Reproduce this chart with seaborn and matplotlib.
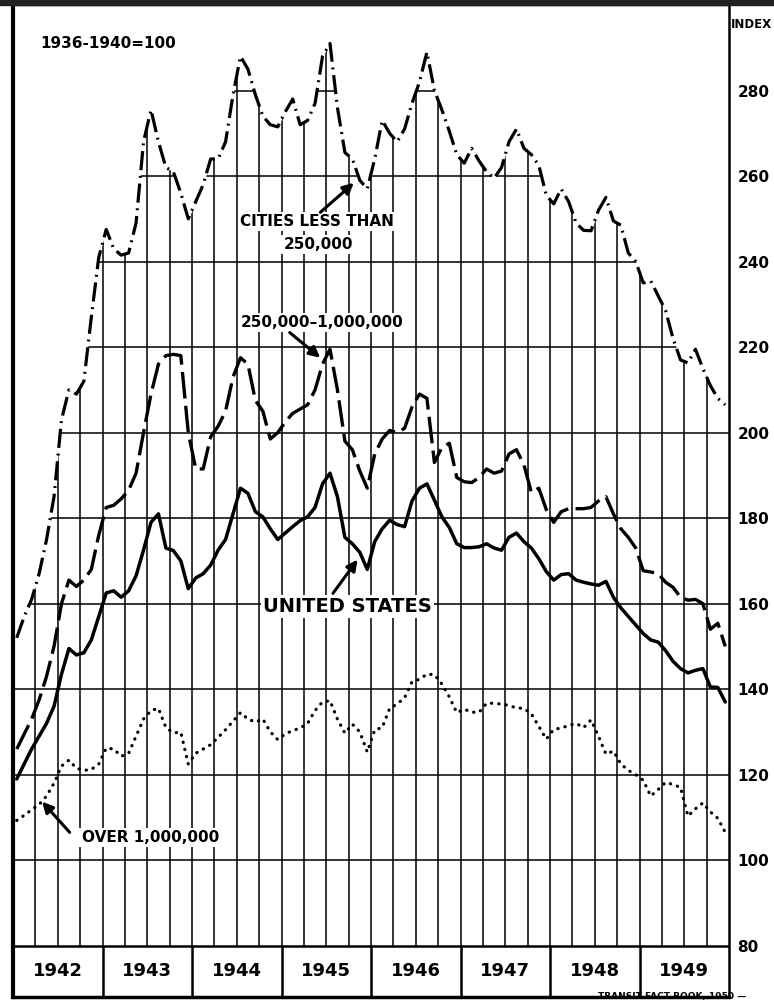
import numpy as np
import pandas as pd
import matplotlib
matplotlib.use('Agg')
import matplotlib.pyplot as plt
from matplotlib.patches import Rectangle
import seaborn as sns

# Transit riding index, 1936-1940 = 100, monthly Jan 1942 - Dec 1949
years = ['1942', '1943', '1944', '1945', '1946', '1947', '1948', '1949']

cities_lt_250k = [
    152, 157, 161, 167, 175, 185, 203, 210, 209, 212, 227, 241,
    247.5, 243, 241.5, 242, 249, 268, 275.5, 268, 262, 261, 256, 250,
    254, 258, 264, 264, 268, 279, 288, 285, 279, 274, 272, 271.5,
    275, 278, 272, 273, 277, 288, 291, 276, 265.5, 264, 259, 257,
    264, 273, 270, 268, 271, 277, 282, 289, 280, 275.5, 270.5, 265,
    263, 266.5, 263.5, 261, 259.5, 262, 268, 271, 266.5, 265, 262.5, 255.5,
    253.5, 257, 254, 249, 247.3, 247.2, 252, 255, 249.5, 248.5, 242, 240,
    235, 235.5, 232, 228.5, 222, 217, 216.3, 219.5, 215, 211, 208, 206.5]

cities_250k_1m = [
    126, 129.5, 133, 137.5, 143, 150, 160, 165.5, 164, 165.5, 168, 176,
    182.5, 183, 184.5, 186.5, 190.5, 200, 209, 216, 218, 218.3, 218, 200,
    191.5, 191.5, 199, 201.5, 205, 213, 217.5, 216, 207.5, 205, 198.5, 200,
    202.5, 204.5, 205.5, 206.5, 210, 216, 219.5, 210, 198, 196, 191, 187,
    195, 198.5, 200.5, 200, 201, 206, 209, 208, 193, 196.5, 197.5, 189.5,
    188.5, 188.3, 189.5, 191.5, 190.5, 191, 195, 196, 192.5, 186, 187, 182,
    179, 181.5, 182.2, 182.2, 182.2, 182.5, 184, 185, 181, 177.5, 175.5, 173,
    167.7, 167.4, 167, 165, 163.8, 161.5, 160.8, 161, 160, 154, 155.4, 150]

united_states = [
    119, 122.5, 126, 129, 132, 136, 143.5, 149.5, 148, 148.5, 151.5, 157,
    162.5, 163, 161.5, 163, 166.5, 172.5, 179, 181, 173, 172.4, 170, 163.5,
    166, 167, 169, 172.5, 175, 181, 187, 185.8, 181.5, 180.3, 177.5, 175,
    176.5, 178, 179.4, 180.3, 182.5, 188, 190.5, 185, 175.5, 174, 172, 168,
    174.5, 177.5, 179.5, 178.5, 178, 184, 187, 188, 184.2, 180.3, 177.8, 174,
    173.1, 173.1, 173.3, 174, 173, 172.5, 175.5, 176.5, 174.5, 173, 170.5, 167.5,
    165.5, 166.8, 167, 165.5, 165, 164.6, 164.3, 165.2, 161.5, 159, 157, 155,
    153, 151.5, 151, 149, 146.5, 144.8, 143.8, 144.4, 144.8, 140.5, 140.4, 137]

over_1m = [
    109.3, 110.5, 111.8, 113, 115, 118, 122, 123.4, 121.5, 121, 121.2, 122.5,
    126.2, 126, 124.3, 125, 129, 133, 135, 135.5, 131, 129.8, 129.9, 122.5,
    125, 126, 127, 128.7, 130.5, 132.5, 134.5, 133, 132.3, 133, 130, 128.2,
    129.5, 130.3, 130.9, 132, 135, 137, 137.3, 133, 129.7, 131.8, 130, 125.3,
    130.5, 131, 135.5, 136.5, 138, 141.7, 142.3, 143.5, 143.4, 141.2, 138.2, 134.5,
    135.3, 134.6, 134.6, 136.7, 136.7, 136.5, 136.2, 135.6, 135.5, 134.2, 131.3, 128.3,
    130.6, 130.9, 131.5, 132, 131, 132.8, 129, 124.8, 125.5, 122.5, 121, 120,
    118.7, 115, 116.5, 118.2, 117.7, 117, 110.3, 112, 113.4, 111.3, 109.8, 106.5]

index_ticks = [80, 100, 120, 140, 160, 180, 200, 220, 240, 260, 280]

df = pd.DataFrame({
    'month': np.arange(96) + 0.5,
    'cities': cities_lt_250k,
    'mid': cities_250k_1m,
    'us': united_states,
    'over': over_1m,
})

sns.set_style('white')
plt.rcParams['font.family'] = ['DejaVu Sans']
plt.rcParams['text.color'] = 'black'
plt.rcParams['ytick.color'] = 'black'
plt.rcParams['ytick.labelcolor'] = 'black'

fig = plt.figure(figsize=(7.74, 10.02), dpi=100)
ax = fig.add_axes([13/774, 5/1002, 716/774, 992/1002])

# grid, later hidden above the top curve
for v in index_ticks[1:]:
    ax.axhline(v, color='k', lw=1.1, zorder=1)
ax.vlines(np.arange(3, 96, 3), 80, 300, color='k', lw=1.1, zorder=1)

# white out grid above the "cities less than 250,000" curve
fx = np.concatenate([[0], df['month'], [96]])
fy = np.concatenate([[df['cities'].iloc[0]], df['cities'], [df['cities'].iloc[-1]]])
ax.fill_between(fx, fy, 300, color='white', zorder=1.5, lw=0)

# year band
ax.axhline(80, color='k', lw=1.8, zorder=2)
ax.vlines(np.arange(12, 96, 12), 68, 80, color='k', lw=1.8, zorder=2)
for k, yr in enumerate(years):
    ax.text(6 + 12 * k, 74, yr, ha='center', va='center', fontsize=13,
            fontweight='bold', color='k')

# series
sns.lineplot(data=df, x='month', y='cities', ax=ax, color='k', lw=2.3,
             linestyle=(0, (6, 1.8, 0.6, 1.8)), zorder=3)
sns.lineplot(data=df, x='month', y='mid', ax=ax, color='k', lw=2.4,
             linestyle=(0, (8, 2.2)), zorder=3)
sns.lineplot(data=df, x='month', y='us', ax=ax, color='k', lw=2.5, zorder=3)
sns.lineplot(data=df, x='month', y='over', ax=ax, color='k', lw=2.3,
             linestyle=(0, (0.1, 2.2)), dash_capstyle='round', zorder=3)

ax.set_xlim(0, 96)
ax.set_ylim(68, 300)
ax.set_xlabel('')
ax.set_ylabel('')
ax.set_xticks([])
ax.yaxis.tick_right()
ax.set_yticks(index_ticks)
ax.tick_params(axis='y', length=0, pad=6, labelsize=11, labelcolor='k')
for lab in ax.get_yticklabels():
    lab.set_fontweight('bold')

for side, w in [('left', 3), ('right', 1.8), ('top', 1), ('bottom', 2.5)]:
    ax.spines[side].set_visible(True)
    ax.spines[side].set_linewidth(w)
    ax.spines[side].set_color('k')

# labels and arrows
box = dict(facecolor='white', edgecolor='none', pad=1.5)
arrow = dict(arrowstyle='-|>', color='k', lw=2.2, mutation_scale=16,
             shrinkA=0, shrinkB=0)

ax.text(3.6, 291, '1936-1940=100', ha='left', va='center', fontsize=11,
        fontweight='bold', zorder=4)

ax.text(40.8, 249.3, 'CITIES LESS THAN', ha='center', va='center',
        fontsize=11, fontweight='bold', bbox=box, zorder=2.5)
ax.text(40.9, 244, '250,000', ha='center', va='center',
        fontsize=11, fontweight='bold', bbox=box, zorder=2.5)
ax.annotate('', xy=(45.7, 258.4), xytext=(41.2, 251.5), arrowprops=arrow,
            zorder=4)

ax.text(41.4, 225.7, '250,000–1,000,000', ha='center', va='center',
        fontsize=11, fontweight='bold', bbox=box, zorder=2.5)
ax.annotate('', xy=(41.2, 217.5), xytext=(37.1, 223.4), arrowprops=arrow,
            zorder=4)

ax.text(44.8, 159.3, 'UNITED STATES', ha='center', va='center',
        fontsize=14, fontweight='bold', bbox=box, zorder=2.5)
ax.annotate('', xy=(46.2, 170.3), xytext=(42.9, 162.4), arrowprops=arrow,
            zorder=4)

ax.text(18.4, 105.3, 'OVER 1,000,000', ha='center', va='center',
        fontsize=11, fontweight='bold', bbox=box, zorder=2.5)
ax.annotate('', xy=(3.9, 113.7), xytext=(7.6, 106.5), arrowprops=arrow,
            zorder=4)

fig.text(751/774, 1 - 25/1002, 'INDEX', ha='center', va='center',
         fontsize=8.5, fontweight='bold', color='k')
fig.text(598/774, 1 - 992/1002, 'TRANSIT FACT BOOK, 1950 —', ha='left',
         va='top', fontsize=6.5, fontweight='bold', color='k')
fig.add_artist(Rectangle((0, 1 - 5/1002), 1, 5/1002, color='#222222',
                         transform=fig.transFigure))

fig.savefig('out.png', dpi=100)
